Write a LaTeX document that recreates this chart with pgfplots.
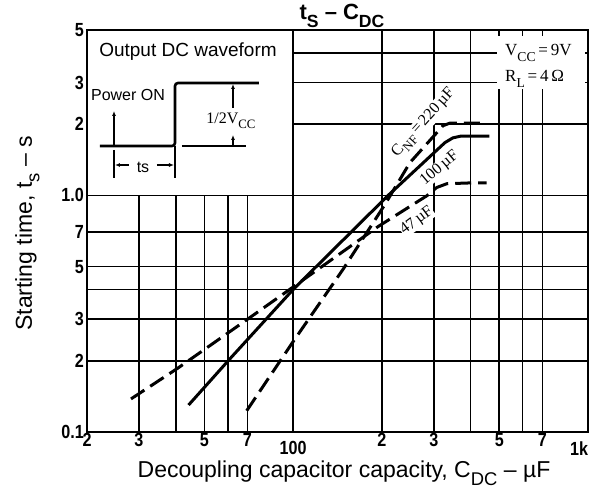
\documentclass[border=0pt]{standalone}
\usepackage{fontspec}
\setmainfont{Liberation Sans}
\newfontfamily\serifont{Liberation Serif}
\newfontfamily\tickfont[FakeStretch=0.85]{Liberation Sans}
\usepackage{graphicx}
\usepackage{pgfplots}
\pgfplotsset{compat=1.18}
\usetikzlibrary{arrows.meta}

% lowered, fairly large subscript as in the scanned sheet
\newcommand{\sub}[1]{\raisebox{-0.32em}{\scalebox{0.8}{#1}}}
\newcommand{\fs}[1]{\fontsize{#1bp}{#1bp}\selectfont}

\begin{document}
\begin{tikzpicture}
\begin{axis}[
    at={(0,0)}, anchor=south west,
    scale only axis, width=501bp, height=402bp,
    xmode=log, ymode=log,
    xmin=20, xmax=1000, ymin=0.1, ymax=5,
    xtick={20,30,50,70,200,300,500,700},
    xticklabels={2,3,5,7,2,3,5,7},
    extra x ticks={100,1000},
    extra x tick labels={100,\llap{1k}},
    extra x tick style={grid=major, tick label style={yshift=-8bp}},
    minor xtick={40,60,400,600},
    ytick={0.1,0.2,0.3,0.5,0.7,1,2,3,5},
    yticklabels={0.1,2,3,5,7,1.0,2,3,5},
    minor ytick={0.4,4},
    grid=both,
    major grid style={black, line width=1.6bp},
    minor grid style={black, line width=1.6bp},
    major tick length=0pt, minor tick length=0pt,
    axis line style={line width=2.4bp},
    tick label style={font=\tickfont\bfseries\fs{19}},
    xticklabel style={inner sep=1.5bp},
    yticklabel style={inner sep=3bp},
    /pgf/number format/assume math mode=true,
    xlabel={Decoupling capacitor capacity, C\sub{DC} -- µF},
    ylabel={Starting time, t\sub{s} -- s},
    xlabel style={at={(rel axis cs:0.513,-0.1144)}, anchor=base, font=\fs{23}},
    ylabel style={at={(rel axis cs:-0.1098,0.494)}, anchor=base, font=\fs{23}},
]
% inset panel covers the grid
\fill[white] (axis cs:20,1) rectangle (axis cs:100,5);
\draw[line width=1.6bp] (axis cs:100,5) -- (axis cs:100,1) -- (axis cs:20,1);

% curve labels
\node[rotate=48, font=\serifont\fs{16}, fill=white, inner sep=0.5bp] at (axis cs:278,2.02) {C\sub{NF}\,=\,220\,µF};
\node[rotate=40, font=\serifont\fs{16}, fill=white, inner sep=0.5bp] at (axis cs:314,1.30) {100\,µF};
\node[rotate=37, font=\serifont\fs{16}, fill=white, inner sep=0.5bp] at (axis cs:263,0.78) {47\,µF};

% C_NF = 47 uF
\addplot[black, line width=3bp, dash pattern=on 16bp off 7bp] coordinates {
    (28.2,0.138) (40.6,0.186) (72,0.307) (100,0.41) (195,0.741)
    (284,0.996) (307,1.08) (332,1.12) (406,1.13) (453,1.13)
};
% C_NF = 100 uF
\addplot[black, line width=3bp] coordinates {
    (44.2,0.13) (61.3,0.205) (100,0.40) (210,1.0) (327,1.67)
    (348,1.75) (370,1.78) (463,1.78)
};
% C_NF = 220 uF
\addplot[black, line width=3bp, dash pattern=on 16bp off 7bp] coordinates {
    (69.6,0.123) (100,0.241) (148,0.489) (205,0.917) (249,1.376)
    (307,1.84) (322,1.97) (340,2.02) (446,2.02)
};
\draw[line width=2.4bp] (rel axis cs:0,0) rectangle (rel axis cs:1,1);
\end{axis}

% annotations in pixel units of the sheet (origin top left)
\begin{scope}[x=1bp, y=-1bp, shift={(-87bp,432bp)}]
\node[font=\bfseries\fs{22}, anchor=base] at (342,20) {t\sub{S} -- C\sub{DC}};

\fill[white] (497,36) rectangle (585,89);
\node[anchor=west, font=\serifont\fs{17}, inner sep=0] at (505,53) {V\sub{CC}\,=\,9V};
\node[anchor=west, font=\serifont\fs{17}, inner sep=0] at (505,79) {R\sub{L}\,=\,4\,Ω};

% output DC waveform sketch
\node[font=\fs{19}] at (188,52) {Output DC waveform};
\draw[line width=2.6bp, rounded corners=3bp] (100,146) -- (175,146) -- (175,83) -- (259,83);
\draw[line width=1.8bp] (182,146) -- (246,146);
\draw[line width=1.6bp, -{Latex[length=5bp,width=4bp]}] (114,146) -- (114,111);
\node[font=\fs{16}] at (128,95) {Power ON};
\draw[line width=1.2bp] (114,150) -- (114,178);
\draw[line width=1.2bp] (175,146) -- (175,178);
\draw[line width=1.2bp, -{Latex[length=5bp,width=4bp]}] (129,165) -- (115,165);
\draw[line width=1.2bp, -{Latex[length=5bp,width=4bp]}] (157,165) -- (174,165);
\node[font=\fs{16}] at (143,167) {ts};
\draw[line width=1.4bp, -{Latex[length=5bp,width=4bp]}] (233,108) -- (233,84);
\draw[line width=1.4bp, -{Latex[length=5bp,width=4bp]}] (233,146) -- (233,135);
\node[font=\serifont\fs{16}] at (231,121) {1/2V\sub{CC}};
\end{scope}

\pgfresetboundingbox
\path[use as bounding box] (-87bp,-56bp) rectangle (505bp,432bp);
\end{tikzpicture}
\end{document}
